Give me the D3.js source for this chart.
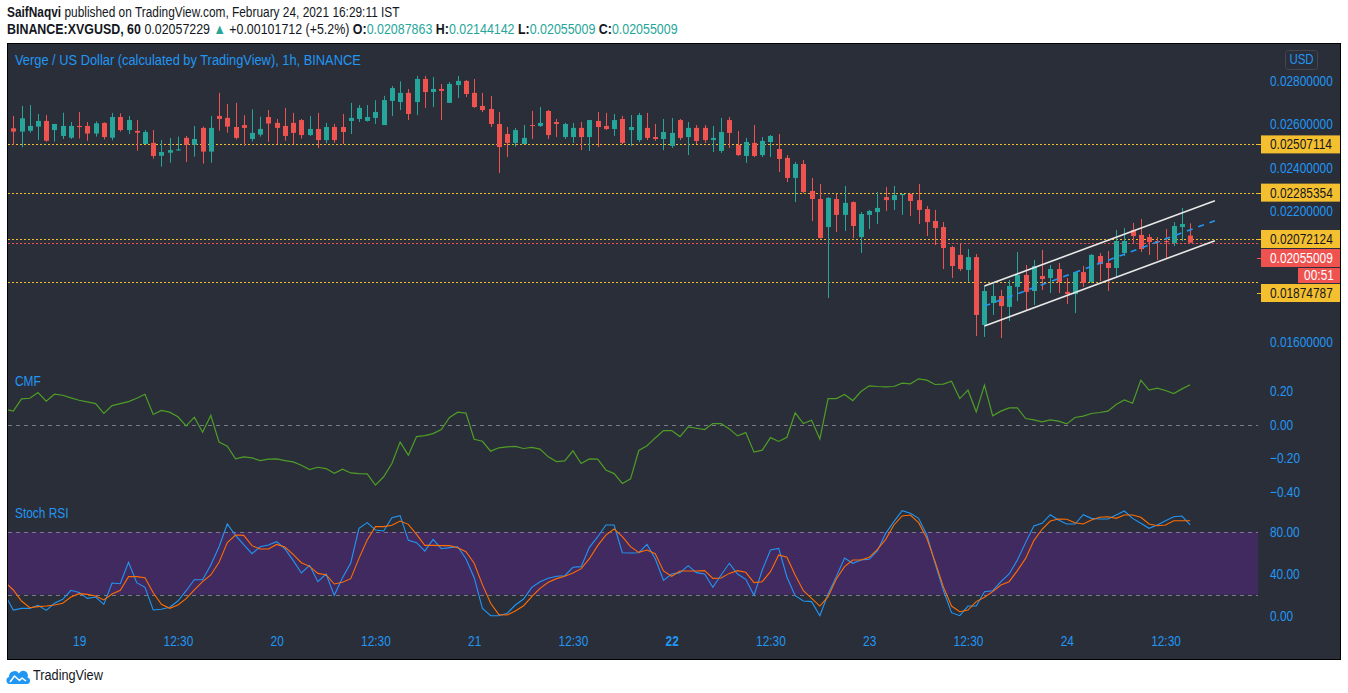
<!DOCTYPE html>
<html><head><meta charset="utf-8">
<script src="https://cdn.jsdelivr.net/npm/d3@7"></script>
<style>body{margin:0;background:#fff}svg{display:block}</style>
</head><body>
<svg id="c" width="1348" height="693"></svg>
<script>
// ---------- DATA ----------
const opens=[0.02642,0.02581,0.02566,0.02570,0.02589,0.02615,0.02573,0.02546,0.02538,0.02592,
0.02592,0.02557,0.02606,0.02538,0.02633,0.02573,0.02569,0.02509,0.02514,0.02455,
0.02469,0.02481,0.02537,0.02506,0.02583,0.02474,0.02638,0.02629,0.02587,0.02596,
0.02532,0.02552,0.02633,0.02606,0.02592,0.02606,0.02619,0.02550,0.02578,0.02527,
0.02587,0.02587,0.02615,0.02624,0.02615,0.02629,0.02596,0.02707,0.02702,0.02744,
0.02702,0.02808,0.02748,0.02762,0.02698,0.02780,0.02799,0.02744,0.02684,0.02670,
0.02601,0.02555,0.02514,0.02509,0.02596,0.02592,0.02661,0.02610,0.02541,0.02541,
0.02583,0.02541,0.02615,0.02592,0.02578,0.02624,0.02573,0.02527,0.02583,0.02541,
0.02532,0.02500,0.02619,0.02541,0.02583,0.02583,0.02527,0.02477,0.02619,0.02504,
0.02454,0.02514,0.02458,0.02518,0.02486,0.02445,0.02353,0.02417,0.02293,0.02256,
0.02127,0.02256,0.02183,0.02242,0.02081,0.02183,0.02196,0.02265,0.02251,0.02276,
0.02279,0.02251,0.02210,0.02155,0.02127,0.02035,0.01999,0.01930,0.01989,0.01677,
0.01778,0.01810,0.01760,0.01852,0.01907,0.01833,0.01902,0.01893,0.01934,0.01829,
0.01819,0.01920,0.01875,0.01994,0.01962,0.01939,0.02008,0.02114,0.02091,0.02081,
0.02063,0.02063,0.02054,0.02127,0.02087863];
const highs=[0.02650,0.02638,0.02684,0.02688,0.02647,0.02642,0.02601,0.02653,0.02610,0.02656,
0.02610,0.02613,0.02608,0.02652,0.02650,0.02638,0.02619,0.02573,0.02573,0.02527,
0.02537,0.02543,0.02546,0.02592,0.02589,0.02638,0.02744,0.02693,0.02698,0.02641,
0.02668,0.02635,0.02665,0.02624,0.02675,0.02652,0.02624,0.02638,0.02652,0.02606,
0.02601,0.02647,0.02698,0.02688,0.02688,0.02710,0.02730,0.02776,0.02797,0.02762,
0.02822,0.02822,0.02817,0.02785,0.02794,0.02822,0.02803,0.02808,0.02744,0.02730,
0.02656,0.02587,0.02583,0.02596,0.02661,0.02679,0.02665,0.02624,0.02606,0.02606,
0.02610,0.02619,0.02656,0.02652,0.02647,0.02638,0.02642,0.02652,0.02652,0.02601,
0.02624,0.02629,0.02624,0.02610,0.02596,0.02596,0.02592,0.02629,0.02633,0.02569,
0.02537,0.02596,0.02541,0.02550,0.02555,0.02458,0.02426,0.02435,0.02353,0.02325,
0.02265,0.02279,0.02316,0.02245,0.02196,0.02206,0.02288,0.02311,0.02316,0.02279,
0.02281,0.02325,0.02224,0.02206,0.02150,0.02040,0.02054,0.02026,0.02003,0.01856,
0.01865,0.01838,0.01884,0.02012,0.01953,0.01976,0.02022,0.01953,0.01962,0.01893,
0.01920,0.01948,0.02003,0.02008,0.02017,0.02114,0.02123,0.02146,0.02164,0.02095,
0.02081,0.02118,0.02150,0.02215,0.02144142];
const lows=[0.02627,0.02504,0.02494,0.02561,0.02527,0.02520,0.02520,0.02532,0.02532,0.02534,
0.02524,0.02543,0.02530,0.02526,0.02566,0.02555,0.02478,0.02509,0.02442,0.02405,
0.02423,0.02478,0.02426,0.02451,0.02419,0.02423,0.02570,0.02561,0.02530,0.02501,
0.02520,0.02543,0.02520,0.02509,0.02524,0.02509,0.02534,0.02546,0.02491,0.02512,
0.02515,0.02509,0.02555,0.02610,0.02612,0.02601,0.02596,0.02638,0.02665,0.02619,
0.02642,0.02675,0.02679,0.02619,0.02698,0.02720,0.02725,0.02675,0.02656,0.02587,
0.02376,0.02449,0.02497,0.02509,0.02532,0.02587,0.02532,0.02541,0.02532,0.02514,
0.02481,0.02477,0.02495,0.02573,0.02546,0.02509,0.02500,0.02518,0.02527,0.02523,
0.02481,0.02491,0.02527,0.02458,0.02509,0.02514,0.02472,0.02468,0.02491,0.02454,
0.02422,0.02449,0.02449,0.02449,0.02380,0.02334,0.02242,0.02284,0.02155,0.02074,
0.01801,0.02104,0.02109,0.02077,0.02008,0.02118,0.02141,0.02201,0.02206,0.02183,
0.02178,0.02141,0.02086,0.02045,0.01934,0.01893,0.01925,0.01875,0.01626,0.01622,
0.01723,0.01617,0.01695,0.01787,0.01741,0.01769,0.01838,0.01824,0.01824,0.01773,
0.01732,0.01852,0.01870,0.01879,0.01833,0.01893,0.01994,0.02054,0.02012,0.01999,
0.01976,0.01980,0.02040,0.02063,0.02055009];
const closes=[0.02635,0.02566,0.02627,0.02592,0.02615,0.02524,0.02601,0.02592,0.02592,0.02587,
0.02557,0.02604,0.02541,0.02633,0.02573,0.02619,0.02561,0.02564,0.02454,0.02472,
0.02481,0.02484,0.02506,0.02532,0.02474,0.02583,0.02624,0.02589,0.02537,0.02583,
0.02560,0.02578,0.02603,0.02583,0.02546,0.02560,0.02550,0.02578,0.02527,0.02587,
0.02527,0.02564,0.02629,0.02675,0.02633,0.02656,0.02711,0.02766,0.02744,0.02647,
0.02808,0.02748,0.02762,0.02753,0.02785,0.02799,0.02739,0.02679,0.02665,0.02601,
0.02495,0.02514,0.02573,0.02537,0.02592,0.02606,0.02550,0.02601,0.02601,0.02583,
0.02541,0.02619,0.02587,0.02578,0.02619,0.02514,0.02587,0.02642,0.02537,0.02532,
0.02564,0.02560,0.02537,0.02583,0.02523,0.02527,0.02537,0.02564,0.02560,0.02458,
0.02518,0.02454,0.02523,0.02546,0.02440,0.02353,0.02417,0.02288,0.02256,0.02077,
0.02261,0.02183,0.02238,0.02132,0.02187,0.02201,0.02215,0.02251,0.02274,0.02279,
0.02247,0.02206,0.02150,0.02123,0.02031,0.01948,0.01934,0.01989,0.01723,0.01833,
0.01810,0.01764,0.01856,0.01907,0.01829,0.01948,0.01888,0.01934,0.01875,0.01819,
0.01920,0.01870,0.01999,0.01957,0.01939,0.02063,0.02063,0.02086,0.02026,0.02058,
0.02058,0.02058,0.02132,0.02141,0.02055009];
const cmf=[0.093,0.081,0.154,0.158,0.192,0.140,0.182,0.176,0.160,0.146,
0.136,0.126,0.067,0.114,0.126,0.138,0.158,0.182,0.061,0.085,
0.075,0.047,-0.007,0.045,-0.045,0.055,-0.104,-0.128,-0.204,-0.192,
-0.198,-0.214,-0.206,-0.204,-0.214,-0.222,-0.242,-0.268,-0.254,-0.262,
-0.290,-0.266,-0.288,-0.292,-0.294,-0.361,-0.311,-0.232,-0.104,-0.182,
-0.071,-0.065,-0.053,-0.029,0.043,0.075,0.069,-0.087,-0.099,-0.158,
-0.138,-0.132,-0.130,-0.142,-0.136,-0.146,-0.192,-0.220,-0.216,-0.156,
-0.232,-0.204,-0.206,-0.270,-0.292,-0.351,-0.323,-0.154,-0.126,-0.079,
-0.035,-0.035,-0.071,-0.013,-0.021,-0.029,0.007,0.007,-0.025,-0.067,
-0.047,-0.164,-0.152,-0.077,-0.100,-0.075,0.071,0.007,0.027,-0.085,
0.156,0.156,0.180,0.144,0.198,0.232,0.228,0.226,0.228,0.248,
0.244,0.274,0.266,0.240,0.242,0.260,0.156,0.206,0.077,0.236,
0.053,0.081,0.100,0.100,0.037,0.029,0.017,0.029,0.021,0.005,
0.043,0.051,0.067,0.073,0.081,0.120,0.148,0.128,0.266,0.206,
0.218,0.204,0.186,0.214,0.238];
const stochK=[19.7,5.4,7.0,7.0,9.9,5.1,11.8,15.6,24.2,22.2,
16.5,17.8,10.8,31.1,30.5,50.8,31.5,27.0,5.4,6.1,
8.0,14.0,23.8,34.3,34.3,48.3,65.7,87.3,76.5,67.6,
59.1,65.7,67.3,70.5,63.8,52.7,40.7,48.0,32.4,39.7,
19.4,36.2,50.2,83.2,88.6,81.6,80.7,93.4,95.3,71.8,
69.6,61.6,72.7,63.8,64.8,65.7,54.3,36.2,7.0,0,
0,2.3,10.2,15.9,27.0,32.4,35.6,37.5,38.1,46.1,
46.7,65.1,75.0,86.4,86.4,60.0,59.7,60.0,67.9,54.3,
33.7,39.7,41.0,47.7,41.0,39.7,27.0,38.8,49.9,39.7,
34.6,19.4,43.5,62.6,64.1,36.9,19.1,14.0,13.4,0,
20.7,37.2,55.0,49.9,53.0,53.7,61.9,78.4,89.6,100,
97.5,92.7,76.8,49.9,24.5,2.9,0,9.2,9.2,22.9,
23.8,32.4,39.7,53.0,69.6,85.4,88.0,96.2,91.1,87.3,
87.3,96.2,92.7,92.1,92.1,95.9,99.7,92.7,88.0,83.2,
86.4,90.5,94.3,94.9,86.4];
const stochD=[31.8,24.5,14.0,7.6,8.6,9.2,10.2,11.8,17.8,21.0,
20.3,18.8,15.0,20.7,24.2,37.2,37.2,36.2,21.9,10.8,
7.0,10.2,16.2,24.5,32.4,38.8,50.8,69.6,76.8,76.5,
66.7,63.5,63.5,67.9,65.4,58.4,50.5,47.0,40.3,39.1,
30.2,31.8,35.3,54.6,72.1,84.8,84.8,86.1,90.2,87.0,
77.5,67.0,67.0,66.7,66.7,64.8,61.0,49.9,29.6,11.8,
1.0,0.7,4.5,9.5,18.1,26.1,31.8,35.3,37.5,40.7,
44.8,54.3,66.7,76.8,82.6,75.3,65.7,60.3,62.5,59.1,
42.6,37.5,42.6,42.6,42.6,42.9,35.6,35.9,40.3,42.9,
41.3,31.5,32.4,41.9,57.8,55.6,38.8,23.8,16.5,9.2,
18.1,35.0,46.7,53.0,53.0,55.6,63.2,72.7,86.4,95.0,
95.9,88.6,73.7,51.5,27.7,9.2,3.8,5.4,13.4,17.5,
22.9,29.2,32.4,42.9,54.6,71.5,82.3,90.2,92.1,91.8,
88.6,87.3,91.1,93.7,94.3,92.7,95.9,95.9,93.7,87.3,
85.7,86.4,90.5,90.5,90.5];
const timeTicks=[10,22,34,46,58,70,82,94,106,118,130,142];
const timeLabels=["19","12:30","20","12:30","21","12:30","22","12:30","23","12:30","24","12:30"];
const priceTicks=[0.028,0.026,0.024,0.022,0.016];
const cmfTicks=[0.2,0,-0.2,-0.4];
const stochTicks=[80,40,0];
const hLevels=[0.02507114,0.02285354,0.02072124,0.01874787];
const lastPrice=0.02055009;
const countdown="00:51";
const channelX=[120,148];
const channelUpper=[0.018561,0.022483];
const channelLower=[0.016722,0.020644];
const channelMid=[0.017641,0.021563];

// ---------- SETUP ----------
const svg=d3.select('#c');
const F="'Liberation Sans',Arial,sans-serif";
const K=0.82; // horizontal condensing to emulate the narrow UI font
const BG='#2a2e39',BLUE='#2196f3',UP='#26a69a',DN='#ef5350',YEL='#f5c02f',TXT='#131722';
const PL=8,PR=1258;
svg.attr('font-family',F);
svg.append('rect').attr('width',1348).attr('height',693).attr('fill','#fff');
function condense(sel,k){k=k||K;sel.each(function(){const t=d3.select(this);const x=+t.attr('x')||0;
  t.attr('transform',`translate(${x},0) scale(${k},1) translate(${-x},0)`);});}

// header
const h1=svg.append('text').attr('x',7).attr('y',17).attr('font-size',14.5).attr('fill',TXT);
h1.append('tspan').attr('font-weight','bold').text('SaifNaqvi');
h1.append('tspan').text(' published on TradingView.com, February 24, 2021 16:29:11 IST');
const h2=svg.append('text').attr('x',7).attr('y',34).attr('font-size',14.5).attr('fill',TXT);
h2.append('tspan').attr('font-weight','bold').text('BINANCE:XVGUSD, 60');
h2.append('tspan').text(' 0.02057229 ');
h2.append('tspan').attr('fill',UP).text('▲');
h2.append('tspan').text(' +0.00101712 (+5.2%) ');
[['O:',opens],['H:',highs],['L:',lows],['C:',closes]].forEach(([k,arr],i)=>{
  h2.append('tspan').attr('font-weight','bold').text((i?' ':'')+k);
  h2.append('tspan').attr('fill',UP).text(d3.format('.8f')(arr[arr.length-1]));
});
condense(h1);condense(h2,0.857);

// frame
svg.append('rect').attr('x',7.5).attr('y',43.5).attr('width',1333).attr('height',616)
  .attr('fill',BG).attr('stroke','#000');

const defs=svg.append('defs');
function clip(id,y0,y1){defs.append('clipPath').attr('id',id).append('rect')
  .attr('x',PL).attr('y',y0).attr('width',PR-PL).attr('height',y1-y0);}
clip('cm',44,366);clip('cc',366,500);clip('cs',500,635);

const N=closes.length;
const idx=d3.range(1,N+1);
const x=d3.scaleLinear().domain([1,145]).range([5.07,1190.2]);
const yP=d3.scaleLinear().domain([0.016,0.028]).range([341.7,80.7]);
const yC=d3.scaleLinear().domain([-0.4,0.2]).range([491.7,391.2]);
const yS=d3.scaleLinear().domain([0,80]).range([615.7,531.7]);
const px=v=>Math.round(v)+0.5;

// ---------- MAIN PANE ----------
const gm=svg.append('g').attr('clip-path','url(#cm)');
gm.selectAll('line.lev').data(hLevels).join('line')
  .attr('x1',PL).attr('x2',PR).attr('y1',d=>px(yP(d))).attr('y2',d=>px(yP(d)))
  .attr('stroke',YEL).attr('stroke-width',1).attr('stroke-dasharray','2,2');
gm.append('line').attr('x1',PL).attr('x2',PR).attr('y1',px(yP(lastPrice))).attr('y2',px(yP(lastPrice)))
  .attr('stroke',DN).attr('stroke-dasharray','2,2');
const cg=gm.selectAll('g.c').data(idx).join('g');
cg.append('line').attr('x1',i=>px(x(i))).attr('x2',i=>px(x(i)))
  .attr('y1',i=>yP(highs[i-1])).attr('y2',i=>yP(lows[i-1]))
  .attr('stroke',i=>closes[i-1]>=opens[i-1]?UP:DN);
cg.append('rect').attr('x',i=>Math.round(x(i))-2).attr('width',5)
  .attr('y',i=>yP(Math.max(opens[i-1],closes[i-1])))
  .attr('height',i=>Math.max(1,Math.abs(yP(opens[i-1])-yP(closes[i-1]))))
  .attr('fill',i=>closes[i-1]>=opens[i-1]?UP:DN);
[[channelUpper,'#e8e8e8',null],[channelLower,'#e8e8e8',null],[channelMid,BLUE,'6,6']].forEach(([p,c,da])=>{
  const l=gm.append('line').attr('x1',x(channelX[0])).attr('x2',x(channelX[1]))
    .attr('y1',yP(p[0])).attr('y2',yP(p[1])).attr('stroke',c).attr('stroke-width',1.6);
  if(da) l.attr('stroke-dasharray',da);
});
svg.append('text').attr('x',15).attr('y',65).attr('font-size',15.2).attr('fill',BLUE)
  .text('Verge / US Dollar (calculated by TradingView), 1h, BINANCE').call(condense,0.845);

// ---------- CMF PANE ----------
const gc=svg.append('g').attr('clip-path','url(#cc)');
gc.append('line').attr('x1',PL).attr('x2',PR).attr('y1',px(yC(0))).attr('y2',px(yC(0)))
  .attr('stroke','#787b86').attr('stroke-dasharray','4,4');
gc.append('path').datum(idx).attr('fill','none').attr('stroke','#4e9d26').attr('stroke-width',1.2)
  .attr('d',d3.line().x(i=>x(i)).y(i=>yC(cmf[i-1])));
svg.append('text').attr('x',15).attr('y',386).attr('font-size',14.5).attr('fill',BLUE).text('CMF').call(condense);

// ---------- STOCH RSI PANE ----------
const gs=svg.append('g').attr('clip-path','url(#cs)');
gs.append('rect').attr('x',PL).attr('width',PR-PL).attr('y',yS(80)).attr('height',yS(20)-yS(80))
  .attr('fill','#412a5f');
[80,20].forEach(v=>gs.append('line').attr('x1',PL).attr('x2',PR).attr('y1',px(yS(v))).attr('y2',px(yS(v)))
  .attr('stroke','#787b86').attr('stroke-dasharray','4,4'));
gs.append('path').datum(idx).attr('fill','none').attr('stroke',BLUE).attr('stroke-width',1.1)
  .attr('d',d3.line().x(i=>x(i)).y(i=>yS(stochK[i-1])));
gs.append('path').datum(idx).attr('fill','none').attr('stroke','#ff6d00').attr('stroke-width',1.1)
  .attr('d',d3.line().x(i=>x(i)).y(i=>yS(stochD[i-1])));
svg.append('text').attr('x',15).attr('y',518).attr('font-size',14.5).attr('fill',BLUE).text('Stoch RSI').call(condense);

// ---------- AXES ----------
function styleAxis(g){g.select('.domain').remove();g.selectAll('line').remove();
  g.selectAll('text').attr('fill',BLUE).attr('font-size',14.5).attr('font-family',F).call(condense);}
svg.append('g').attr('transform','translate(1262,0)')
  .call(d3.axisRight(yP).tickValues(priceTicks).tickFormat(d3.format('.8f')).tickSize(0).tickPadding(8)).call(styleAxis);
svg.append('g').attr('transform','translate(1262,0)')
  .call(d3.axisRight(yC).tickValues(cmfTicks).tickFormat(d3.format('.2f')).tickSize(0).tickPadding(8)).call(styleAxis);
svg.append('g').attr('transform','translate(1262,0)')
  .call(d3.axisRight(yS).tickValues(stochTicks).tickFormat(d3.format('.2f')).tickSize(0).tickPadding(8)).call(styleAxis);
const ta=svg.append('g').attr('transform','translate(0,636)')
  .call(d3.axisBottom(x).tickValues(timeTicks).tickFormat((d,i)=>timeLabels[i]).tickSize(0).tickPadding(0)).call(styleAxis);
ta.selectAll('text').filter(d=>d===82).attr('font-weight','bold');

// USD button
svg.append('rect').attr('x',1285.5).attr('y',50.5).attr('width',32).attr('height',19).attr('rx',3)
  .attr('fill','none').attr('stroke','#434651');
svg.append('text').attr('x',1301.5).attr('y',64.5).attr('text-anchor','middle').attr('font-size',14)
  .attr('fill',BLUE).text('USD').call(condense);

// price labels (stacked)
const labs=hLevels.map(p=>({p,fill:YEL,tc:TXT,t:d3.format('.8f')(p),h:18}));
labs.push({p:lastPrice,fill:DN,tc:'#fff',t:d3.format('.8f')(lastPrice),h:18,cd:true});
labs.sort((a,b)=>yP(a.p)-yP(b.p));
let prevBottom=-1e9;
const boxes=[];
labs.forEach(l=>{let top=yP(l.p)-l.h/2; if(top<prevBottom+1) top=prevBottom+1;
  boxes.push({...l,top,x0:1261,w:79}); prevBottom=top+l.h;
  if(l.cd){const t2=prevBottom+1; boxes.push({fill:DN,tc:'#fff',t:countdown,h:15,top:t2,x0:1298,w:42,center:true}); prevBottom=t2+15;}
});
boxes.forEach(b=>{
  svg.append('rect').attr('x',b.x0).attr('y',b.top).attr('width',b.w).attr('height',b.h).attr('fill',b.fill);
  if(!b.center) svg.append('line').attr('x1',1257).attr('x2',1261).attr('y1',px(b.top+b.h/2)).attr('y2',px(b.top+b.h/2)).attr('stroke',b.fill);
  svg.append('text').attr('x',b.center?b.x0+b.w/2:1270).attr('y',b.top+b.h/2+5)
    .attr('text-anchor',b.center?'middle':'start').attr('font-size',14.5).attr('fill',b.tc).text(b.t).call(condense);
});

// TradingView logo (cloud with zigzag)
svg.append('path').attr('d','M9.5,684 A3.6,3.6 0 0 1 9,677 A5.5,5.5 0 0 1 19,673.5 A4.6,4.6 0 0 1 27.5,677.5 A3.3,3.3 0 0 1 27,684 Z')
  .attr('fill','#2196f3');
svg.append('path').attr('d','M10,682 L14.5,676 L19.5,680.5 L22,678 L26,681')
  .attr('fill','none').attr('stroke','#fff').attr('stroke-width',1.5).attr('stroke-linejoin','round');
svg.append('text').attr('x',33).attr('y',680).attr('font-size',15.5).attr('fill',TXT).text('TradingView').call(condense);
</script>
</body></html>
